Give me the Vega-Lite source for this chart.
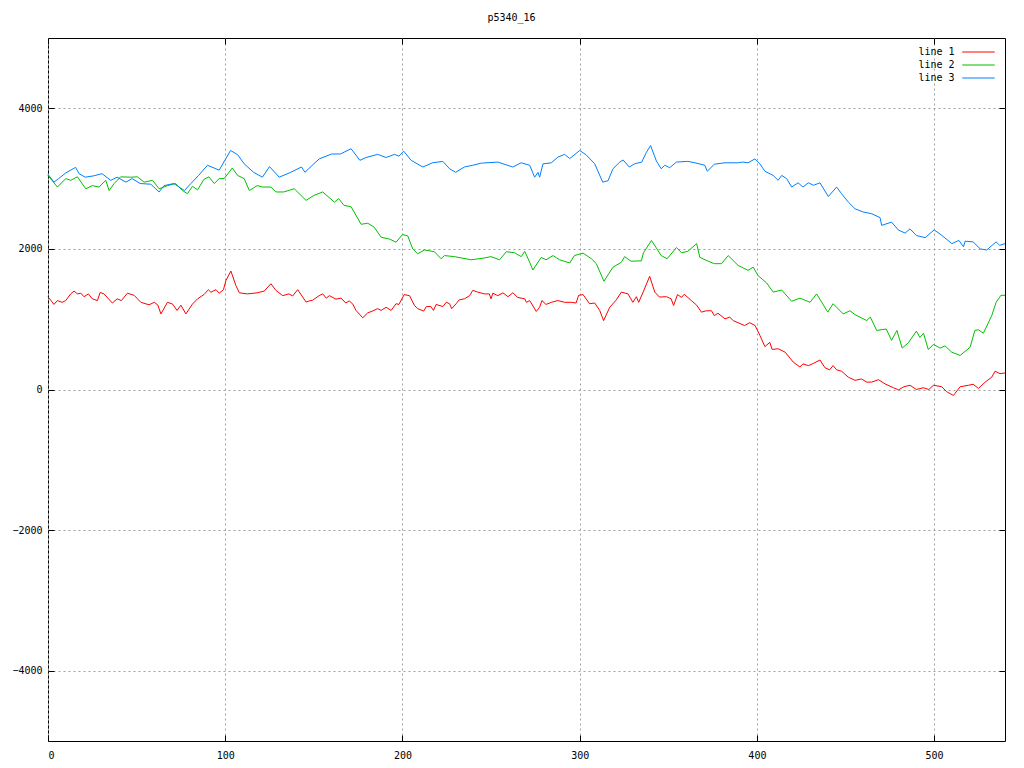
{
"$schema": "https://vega.github.io/schema/vega-lite/v6.json",
"width": 957, "height": 703,
"autosize": {"type": "none"},
"padding": {"left": 48, "top": 38, "right": 19, "bottom": 27},
"background": "white",
"title": {"text": "p5340_16", "font": "DejaVu Sans Mono", "fontSize": 10, "fontWeight": "normal", "color": "black", "offset": 15, "dx": -15},
"config": {
 "view": {"stroke": "black", "strokeWidth": 1},
 "axis": {"labelFont": "DejaVu Sans Mono", "labelFontSize": 10, "labelColor": "black", "domain": false, "tickColor": "black", "tickSize": -6, "gridColor": "#a0a0a0", "gridDash": [2, 3], "gridOpacity": 1, "gridWidth": 1}
},
"datasets": {
"d": [
{"s":"line 1","x":0,"y":1320},{"s":"line 1","x":3.4,"y":1210},{"s":"line 1","x":5.3,"y":1265},{"s":"line 1","x":8,"y":1240},{"s":"line 1","x":10,"y":1265},{"s":"line 1","x":12.8,"y":1360},{"s":"line 1","x":14.7,"y":1400},{"s":"line 1","x":16.6,"y":1360},{"s":"line 1","x":18.5,"y":1370},{"s":"line 1","x":20.3,"y":1320},{"s":"line 1","x":22.8,"y":1360},{"s":"line 1","x":25,"y":1290},{"s":"line 1","x":27.9,"y":1265},{"s":"line 1","x":29.4,"y":1380},{"s":"line 1","x":31.6,"y":1360},{"s":"line 1","x":36.3,"y":1230},{"s":"line 1","x":39,"y":1290},{"s":"line 1","x":41.4,"y":1265},{"s":"line 1","x":44.8,"y":1370},{"s":"line 1","x":48.6,"y":1340},{"s":"line 1","x":52.4,"y":1240},{"s":"line 1","x":57,"y":1205},{"s":"line 1","x":60,"y":1240},{"s":"line 1","x":62,"y":1200},{"s":"line 1","x":63.7,"y":1075},{"s":"line 1","x":67.4,"y":1240},{"s":"line 1","x":70.3,"y":1215},{"s":"line 1","x":72.8,"y":1125},{"s":"line 1","x":75,"y":1200},{"s":"line 1","x":77.8,"y":1075},{"s":"line 1","x":81.5,"y":1215},{"s":"line 1","x":84.4,"y":1290},{"s":"line 1","x":88,"y":1350},{"s":"line 1","x":90.5,"y":1420},{"s":"line 1","x":91.9,"y":1385},{"s":"line 1","x":94.8,"y":1420},{"s":"line 1","x":96.6,"y":1370},{"s":"line 1","x":99,"y":1420},{"s":"line 1","x":100.4,"y":1550},{"s":"line 1","x":103.2,"y":1685},{"s":"line 1","x":106,"y":1480},{"s":"line 1","x":108,"y":1375},{"s":"line 1","x":112.6,"y":1360},{"s":"line 1","x":118,"y":1375},{"s":"line 1","x":122,"y":1400},{"s":"line 1","x":125.8,"y":1505},{"s":"line 1","x":128.6,"y":1410},{"s":"line 1","x":132.4,"y":1335},{"s":"line 1","x":136,"y":1360},{"s":"line 1","x":138,"y":1330},{"s":"line 1","x":140.9,"y":1420},{"s":"line 1","x":145.6,"y":1245},{"s":"line 1","x":147.5,"y":1260},{"s":"line 1","x":149.3,"y":1270},{"s":"line 1","x":153,"y":1335},{"s":"line 1","x":155,"y":1360},{"s":"line 1","x":157,"y":1300},{"s":"line 1","x":158.8,"y":1335},{"s":"line 1","x":162.5,"y":1285},{"s":"line 1","x":165.4,"y":1300},{"s":"line 1","x":168,"y":1230},{"s":"line 1","x":170,"y":1260},{"s":"line 1","x":172,"y":1215},{"s":"line 1","x":173.8,"y":1125},{"s":"line 1","x":177.6,"y":1020},{"s":"line 1","x":180.4,"y":1090},{"s":"line 1","x":183,"y":1115},{"s":"line 1","x":186,"y":1150},{"s":"line 1","x":188,"y":1125},{"s":"line 1","x":190.8,"y":1170},{"s":"line 1","x":193.6,"y":1125},{"s":"line 1","x":196.4,"y":1220},{"s":"line 1","x":198,"y":1210},{"s":"line 1","x":201,"y":1350},{"s":"line 1","x":204,"y":1335},{"s":"line 1","x":206.8,"y":1195},{"s":"line 1","x":208.6,"y":1150},{"s":"line 1","x":212,"y":1115},{"s":"line 1","x":213.5,"y":1180},{"s":"line 1","x":216,"y":1180},{"s":"line 1","x":217.5,"y":1125},{"s":"line 1","x":219,"y":1210},{"s":"line 1","x":222.8,"y":1180},{"s":"line 1","x":224.7,"y":1240},{"s":"line 1","x":226.6,"y":1220},{"s":"line 1","x":227.8,"y":1150},{"s":"line 1","x":230.3,"y":1220},{"s":"line 1","x":232,"y":1275},{"s":"line 1","x":235,"y":1290},{"s":"line 1","x":237.9,"y":1335},{"s":"line 1","x":239.7,"y":1410},{"s":"line 1","x":242.5,"y":1385},{"s":"line 1","x":246.3,"y":1360},{"s":"line 1","x":249,"y":1360},{"s":"line 1","x":250,"y":1290},{"s":"line 1","x":251,"y":1370},{"s":"line 1","x":253.8,"y":1335},{"s":"line 1","x":256.7,"y":1375},{"s":"line 1","x":259.5,"y":1320},{"s":"line 1","x":262.3,"y":1375},{"s":"line 1","x":265,"y":1310},{"s":"line 1","x":269,"y":1290},{"s":"line 1","x":270,"y":1240},{"s":"line 1","x":271.8,"y":1265},{"s":"line 1","x":275.5,"y":1110},{"s":"line 1","x":277.4,"y":1170},{"s":"line 1","x":278.7,"y":1265},{"s":"line 1","x":281,"y":1210},{"s":"line 1","x":284,"y":1240},{"s":"line 1","x":287.7,"y":1265},{"s":"line 1","x":291.5,"y":1240},{"s":"line 1","x":295.3,"y":1240},{"s":"line 1","x":298,"y":1230},{"s":"line 1","x":299.4,"y":1340},{"s":"line 1","x":301.9,"y":1350},{"s":"line 1","x":305.6,"y":1220},{"s":"line 1","x":308.5,"y":1230},{"s":"line 1","x":311.3,"y":1125},{"s":"line 1","x":313.5,"y":980},{"s":"line 1","x":317,"y":1170},{"s":"line 1","x":320.7,"y":1275},{"s":"line 1","x":323.5,"y":1385},{"s":"line 1","x":327.3,"y":1360},{"s":"line 1","x":330,"y":1240},{"s":"line 1","x":332,"y":1320},{"s":"line 1","x":333.3,"y":1240},{"s":"line 1","x":335.8,"y":1385},{"s":"line 1","x":339.5,"y":1610},{"s":"line 1","x":342.4,"y":1385},{"s":"line 1","x":345,"y":1315},{"s":"line 1","x":349,"y":1320},{"s":"line 1","x":351.6,"y":1290},{"s":"line 1","x":353,"y":1195},{"s":"line 1","x":355.2,"y":1350},{"s":"line 1","x":357.5,"y":1310},{"s":"line 1","x":359,"y":1355},{"s":"line 1","x":363,"y":1265},{"s":"line 1","x":366,"y":1200},{"s":"line 1","x":368.7,"y":1100},{"s":"line 1","x":371.5,"y":1120},{"s":"line 1","x":374.4,"y":1120},{"s":"line 1","x":376,"y":1050},{"s":"line 1","x":378,"y":1085},{"s":"line 1","x":382,"y":1005},{"s":"line 1","x":384.7,"y":1030},{"s":"line 1","x":386.6,"y":980},{"s":"line 1","x":389.4,"y":950},{"s":"line 1","x":393,"y":910},{"s":"line 1","x":396,"y":950},{"s":"line 1","x":399,"y":910},{"s":"line 1","x":401.7,"y":770},{"s":"line 1","x":404.5,"y":610},{"s":"line 1","x":407.3,"y":670},{"s":"line 1","x":408.6,"y":570},{"s":"line 1","x":412,"y":580},{"s":"line 1","x":416,"y":530},{"s":"line 1","x":420.5,"y":390},{"s":"line 1","x":424.3,"y":320},{"s":"line 1","x":426,"y":365},{"s":"line 1","x":429,"y":340},{"s":"line 1","x":431.8,"y":370},{"s":"line 1","x":435.6,"y":420},{"s":"line 1","x":438.4,"y":310},{"s":"line 1","x":441,"y":280},{"s":"line 1","x":443,"y":340},{"s":"line 1","x":445,"y":280},{"s":"line 1","x":447.8,"y":260},{"s":"line 1","x":451.6,"y":175},{"s":"line 1","x":455.4,"y":130},{"s":"line 1","x":459,"y":150},{"s":"line 1","x":462,"y":105},{"s":"line 1","x":464.8,"y":105},{"s":"line 1","x":468.6,"y":140},{"s":"line 1","x":472.3,"y":80},{"s":"line 1","x":477,"y":25},{"s":"line 1","x":480,"y":-5},{"s":"line 1","x":483,"y":40},{"s":"line 1","x":486.4,"y":60},{"s":"line 1","x":490,"y":0},{"s":"line 1","x":494,"y":25},{"s":"line 1","x":497,"y":0},{"s":"line 1","x":499.6,"y":60},{"s":"line 1","x":504.3,"y":40},{"s":"line 1","x":507,"y":-30},{"s":"line 1","x":510.9,"y":-85},{"s":"line 1","x":514.7,"y":40},{"s":"line 1","x":519.4,"y":60},{"s":"line 1","x":522,"y":75},{"s":"line 1","x":525,"y":15},{"s":"line 1","x":528.8,"y":105},{"s":"line 1","x":532.5,"y":175},{"s":"line 1","x":534.4,"y":260},{"s":"line 1","x":537.2,"y":225},{"s":"line 1","x":540,"y":235},
{"s":"line 2","x":0,"y":3045},{"s":"line 2","x":5.3,"y":2880},{"s":"line 2","x":10,"y":3000},{"s":"line 2","x":12.8,"y":2975},{"s":"line 2","x":16.6,"y":3025},{"s":"line 2","x":21.3,"y":2855},{"s":"line 2","x":25,"y":2900},{"s":"line 2","x":28.8,"y":2880},{"s":"line 2","x":32.6,"y":2975},{"s":"line 2","x":34.5,"y":2830},{"s":"line 2","x":37.3,"y":2930},{"s":"line 2","x":41,"y":3025},{"s":"line 2","x":46.7,"y":3020},{"s":"line 2","x":50.5,"y":3025},{"s":"line 2","x":54.2,"y":2950},{"s":"line 2","x":59,"y":2975},{"s":"line 2","x":62.7,"y":2855},{"s":"line 2","x":67.4,"y":2900},{"s":"line 2","x":72,"y":2930},{"s":"line 2","x":75.9,"y":2830},{"s":"line 2","x":78.7,"y":2785},{"s":"line 2","x":81.5,"y":2890},{"s":"line 2","x":84.4,"y":2840},{"s":"line 2","x":88,"y":2990},{"s":"line 2","x":90.8,"y":3025},{"s":"line 2","x":93.8,"y":2930},{"s":"line 2","x":96.6,"y":3000},{"s":"line 2","x":99.4,"y":3000},{"s":"line 2","x":104,"y":3150},{"s":"line 2","x":107,"y":3045},{"s":"line 2","x":110.7,"y":3000},{"s":"line 2","x":113.6,"y":2830},{"s":"line 2","x":118,"y":2900},{"s":"line 2","x":121,"y":2880},{"s":"line 2","x":125.8,"y":2880},{"s":"line 2","x":128.6,"y":2810},{"s":"line 2","x":133,"y":2810},{"s":"line 2","x":139,"y":2855},{"s":"line 2","x":145.6,"y":2690},{"s":"line 2","x":150,"y":2760},{"s":"line 2","x":155,"y":2810},{"s":"line 2","x":161.6,"y":2665},{"s":"line 2","x":164,"y":2715},{"s":"line 2","x":167,"y":2620},{"s":"line 2","x":171,"y":2600},{"s":"line 2","x":176.7,"y":2350},{"s":"line 2","x":180.4,"y":2365},{"s":"line 2","x":184,"y":2310},{"s":"line 2","x":188,"y":2165},{"s":"line 2","x":192.7,"y":2140},{"s":"line 2","x":196.4,"y":2095},{"s":"line 2","x":200,"y":2205},{"s":"line 2","x":203,"y":2185},{"s":"line 2","x":205.8,"y":2000},{"s":"line 2","x":208.6,"y":1930},{"s":"line 2","x":212.4,"y":1985},{"s":"line 2","x":218,"y":1960},{"s":"line 2","x":221.8,"y":1860},{"s":"line 2","x":223.7,"y":1905},{"s":"line 2","x":229.4,"y":1890},{"s":"line 2","x":238.8,"y":1845},{"s":"line 2","x":246,"y":1870},{"s":"line 2","x":250,"y":1890},{"s":"line 2","x":254.8,"y":1845},{"s":"line 2","x":258.6,"y":1960},{"s":"line 2","x":263.3,"y":1945},{"s":"line 2","x":267,"y":1890},{"s":"line 2","x":269,"y":1965},{"s":"line 2","x":271.8,"y":1810},{"s":"line 2","x":273.6,"y":1700},{"s":"line 2","x":278.3,"y":1880},{"s":"line 2","x":281,"y":1845},{"s":"line 2","x":285,"y":1905},{"s":"line 2","x":288.7,"y":1845},{"s":"line 2","x":294.4,"y":1800},{"s":"line 2","x":297,"y":1905},{"s":"line 2","x":301.9,"y":1940},{"s":"line 2","x":306.6,"y":1860},{"s":"line 2","x":309.4,"y":1790},{"s":"line 2","x":313.7,"y":1540},{"s":"line 2","x":318.8,"y":1740},{"s":"line 2","x":323.5,"y":1810},{"s":"line 2","x":325.4,"y":1890},{"s":"line 2","x":329,"y":1825},{"s":"line 2","x":334.8,"y":1830},{"s":"line 2","x":336,"y":1945},{"s":"line 2","x":340.5,"y":2120},{"s":"line 2","x":344,"y":1985},{"s":"line 2","x":346,"y":1905},{"s":"line 2","x":349.4,"y":1860},{"s":"line 2","x":354.6,"y":2020},{"s":"line 2","x":357.5,"y":1945},{"s":"line 2","x":361,"y":1965},{"s":"line 2","x":366,"y":2075},{"s":"line 2","x":367.8,"y":1880},{"s":"line 2","x":372.5,"y":1825},{"s":"line 2","x":376,"y":1790},{"s":"line 2","x":380,"y":1790},{"s":"line 2","x":383.8,"y":1905},{"s":"line 2","x":389.4,"y":1765},{"s":"line 2","x":395,"y":1695},{"s":"line 2","x":397.9,"y":1740},{"s":"line 2","x":400.7,"y":1620},{"s":"line 2","x":405.5,"y":1515},{"s":"line 2","x":409.2,"y":1385},{"s":"line 2","x":414,"y":1415},{"s":"line 2","x":419.6,"y":1255},{"s":"line 2","x":424.3,"y":1300},{"s":"line 2","x":430,"y":1240},{"s":"line 2","x":433.7,"y":1360},{"s":"line 2","x":440,"y":1100},{"s":"line 2","x":443,"y":1220},{"s":"line 2","x":448.7,"y":1075},{"s":"line 2","x":452.5,"y":1120},{"s":"line 2","x":455.4,"y":1065},{"s":"line 2","x":462,"y":980},{"s":"line 2","x":464,"y":1030},{"s":"line 2","x":467.6,"y":840},{"s":"line 2","x":473,"y":860},{"s":"line 2","x":476,"y":700},{"s":"line 2","x":479,"y":840},{"s":"line 2","x":482,"y":590},{"s":"line 2","x":485.5,"y":665},{"s":"line 2","x":490,"y":830},{"s":"line 2","x":492,"y":740},{"s":"line 2","x":494,"y":800},{"s":"line 2","x":496.7,"y":570},{"s":"line 2","x":499.6,"y":640},{"s":"line 2","x":503.4,"y":590},{"s":"line 2","x":506.2,"y":620},{"s":"line 2","x":510,"y":530},{"s":"line 2","x":514.7,"y":485},{"s":"line 2","x":520.3,"y":600},{"s":"line 2","x":523,"y":840},{"s":"line 2","x":525,"y":850},{"s":"line 2","x":527.8,"y":800},{"s":"line 2","x":532.5,"y":1050},{"s":"line 2","x":535,"y":1240},{"s":"line 2","x":537.7,"y":1340},{"s":"line 2","x":540,"y":1340},
{"s":"line 3","x":0,"y":3060},{"s":"line 3","x":3.4,"y":2950},{"s":"line 3","x":6,"y":3000},{"s":"line 3","x":10,"y":3080},{"s":"line 3","x":15.6,"y":3160},{"s":"line 3","x":17.5,"y":3070},{"s":"line 3","x":21,"y":3020},{"s":"line 3","x":26,"y":3040},{"s":"line 3","x":30.5,"y":3070},{"s":"line 3","x":35.4,"y":2975},{"s":"line 3","x":39,"y":3020},{"s":"line 3","x":44,"y":2950},{"s":"line 3","x":47.5,"y":3000},{"s":"line 3","x":52,"y":2930},{"s":"line 3","x":58,"y":2920},{"s":"line 3","x":62.7,"y":2810},{"s":"line 3","x":65.5,"y":2900},{"s":"line 3","x":71,"y":2930},{"s":"line 3","x":77,"y":2830},{"s":"line 3","x":80.6,"y":2930},{"s":"line 3","x":85,"y":3045},{"s":"line 3","x":90,"y":3190},{"s":"line 3","x":96.6,"y":3120},{"s":"line 3","x":103,"y":3400},{"s":"line 3","x":107,"y":3340},{"s":"line 3","x":110.7,"y":3210},{"s":"line 3","x":116,"y":3090},{"s":"line 3","x":121,"y":3020},{"s":"line 3","x":125,"y":3170},{"s":"line 3","x":130.5,"y":3020},{"s":"line 3","x":137,"y":3090},{"s":"line 3","x":143,"y":3165},{"s":"line 3","x":145,"y":3090},{"s":"line 3","x":150,"y":3210},{"s":"line 3","x":153,"y":3280},{"s":"line 3","x":160,"y":3350},{"s":"line 3","x":165,"y":3350},{"s":"line 3","x":171,"y":3425},{"s":"line 3","x":176,"y":3260},{"s":"line 3","x":179.5,"y":3300},{"s":"line 3","x":186,"y":3345},{"s":"line 3","x":190.8,"y":3300},{"s":"line 3","x":195.5,"y":3345},{"s":"line 3","x":198,"y":3320},{"s":"line 3","x":200.7,"y":3390},{"s":"line 3","x":204.9,"y":3260},{"s":"line 3","x":211.5,"y":3165},{"s":"line 3","x":217,"y":3225},{"s":"line 3","x":222.8,"y":3245},{"s":"line 3","x":226.6,"y":3140},{"s":"line 3","x":230,"y":3090},{"s":"line 3","x":235,"y":3165},{"s":"line 3","x":239.7,"y":3190},{"s":"line 3","x":244.5,"y":3220},{"s":"line 3","x":253.8,"y":3235},{"s":"line 3","x":262.3,"y":3165},{"s":"line 3","x":267,"y":3225},{"s":"line 3","x":271.8,"y":3190},{"s":"line 3","x":274.6,"y":3020},{"s":"line 3","x":276.5,"y":3090},{"s":"line 3","x":277.4,"y":3020},{"s":"line 3","x":279.3,"y":3210},{"s":"line 3","x":284,"y":3225},{"s":"line 3","x":287.7,"y":3305},{"s":"line 3","x":291.5,"y":3345},{"s":"line 3","x":294.4,"y":3285},{"s":"line 3","x":300,"y":3400},{"s":"line 3","x":303.8,"y":3335},{"s":"line 3","x":308.5,"y":3210},{"s":"line 3","x":313,"y":2950},{"s":"line 3","x":316,"y":2970},{"s":"line 3","x":318.8,"y":3140},{"s":"line 3","x":322.6,"y":3235},{"s":"line 3","x":324.5,"y":3265},{"s":"line 3","x":328,"y":3165},{"s":"line 3","x":331,"y":3210},{"s":"line 3","x":335,"y":3235},{"s":"line 3","x":337.7,"y":3375},{"s":"line 3","x":340,"y":3470},{"s":"line 3","x":343.3,"y":3250},{"s":"line 3","x":346,"y":3140},{"s":"line 3","x":348,"y":3190},{"s":"line 3","x":350.8,"y":3155},{"s":"line 3","x":354.6,"y":3235},{"s":"line 3","x":361,"y":3245},{"s":"line 3","x":365,"y":3225},{"s":"line 3","x":370.6,"y":3190},{"s":"line 3","x":372,"y":3105},{"s":"line 3","x":376,"y":3205},{"s":"line 3","x":382,"y":3225},{"s":"line 3","x":389.4,"y":3225},{"s":"line 3","x":392,"y":3235},{"s":"line 3","x":395,"y":3225},{"s":"line 3","x":398.9,"y":3280},{"s":"line 3","x":401.7,"y":3210},{"s":"line 3","x":404.5,"y":3105},{"s":"line 3","x":409.2,"y":3045},{"s":"line 3","x":412,"y":2975},{"s":"line 3","x":414,"y":3045},{"s":"line 3","x":416.8,"y":3000},{"s":"line 3","x":419.6,"y":2880},{"s":"line 3","x":423.3,"y":2940},{"s":"line 3","x":426,"y":2880},{"s":"line 3","x":429,"y":2940},{"s":"line 3","x":432,"y":2905},{"s":"line 3","x":435.6,"y":2940},{"s":"line 3","x":440.3,"y":2745},{"s":"line 3","x":445,"y":2880},{"s":"line 3","x":447.8,"y":2785},{"s":"line 3","x":451.6,"y":2665},{"s":"line 3","x":455.4,"y":2570},{"s":"line 3","x":460,"y":2525},{"s":"line 3","x":464.8,"y":2500},{"s":"line 3","x":469.5,"y":2445},{"s":"line 3","x":470.4,"y":2335},{"s":"line 3","x":476,"y":2380},{"s":"line 3","x":479.8,"y":2270},{"s":"line 3","x":483.6,"y":2225},{"s":"line 3","x":486.4,"y":2285},{"s":"line 3","x":490,"y":2190},{"s":"line 3","x":495,"y":2160},{"s":"line 3","x":500,"y":2270},{"s":"line 3","x":504,"y":2200},{"s":"line 3","x":510,"y":2075},{"s":"line 3","x":514,"y":2120},{"s":"line 3","x":516.6,"y":2030},{"s":"line 3","x":517.5,"y":2110},{"s":"line 3","x":522,"y":2100},{"s":"line 3","x":526,"y":2000},{"s":"line 3","x":529.7,"y":1985},{"s":"line 3","x":535,"y":2100},{"s":"line 3","x":537,"y":2050},{"s":"line 3","x":540,"y":2075}
]
},
"data": {"name": "d"},
"layer": [
 {
  "mark": {"type": "line", "strokeWidth": 1},
  "encoding": {
   "x": {"field": "x", "type": "quantitative", "scale": {"domain": [0, 540], "nice": false, "zero": false},
         "axis": {"orient": "bottom", "values": [0, 100, 200, 300, 400, 500], "format": "d", "title": null, "grid": true, "labelPadding": 15}},
   "y": {"field": "y", "type": "quantitative", "scale": {"domain": [-5000, 5000], "nice": false},
         "axis": {"orient": "left", "values": [-4000, -2000, 0, 2000, 4000], "format": "d", "title": null, "grid": true, "labelPadding": 12}},
   "color": {"field": "s", "type": "nominal",
     "scale": {"domain": ["line 1", "line 2", "line 3"], "range": ["#ff0000", "#00c000", "#0080ff"]},
     "legend": {"orient": "none", "legendX": 914, "legendY": 7, "title": null, "symbolType": "M-2.5,0H2.5", "symbolSize": 169, "symbolStrokeWidth": 1, "symbolOffset": 9.5, "labelFont": "DejaVu Sans Mono", "labelFontSize": 10, "labelColor": "black", "labelAlign": "right", "labelOffset": -31, "rowPadding": 1, "padding": 0}}
  }
 },
 {
  "mark": {"type": "point", "opacity": 0},
  "encoding": {
   "x": {"field": "x", "type": "quantitative", "axis": {"orient": "top", "values": [0, 100, 200, 300, 400, 500], "title": null, "grid": false, "labels": false}},
   "y": {"field": "y", "type": "quantitative", "axis": {"orient": "right", "values": [-4000, -2000, 0, 2000, 4000], "title": null, "grid": false, "labels": false}}
  }
 }
],
"resolve": {"axis": {"x": "independent", "y": "independent"}}
}
